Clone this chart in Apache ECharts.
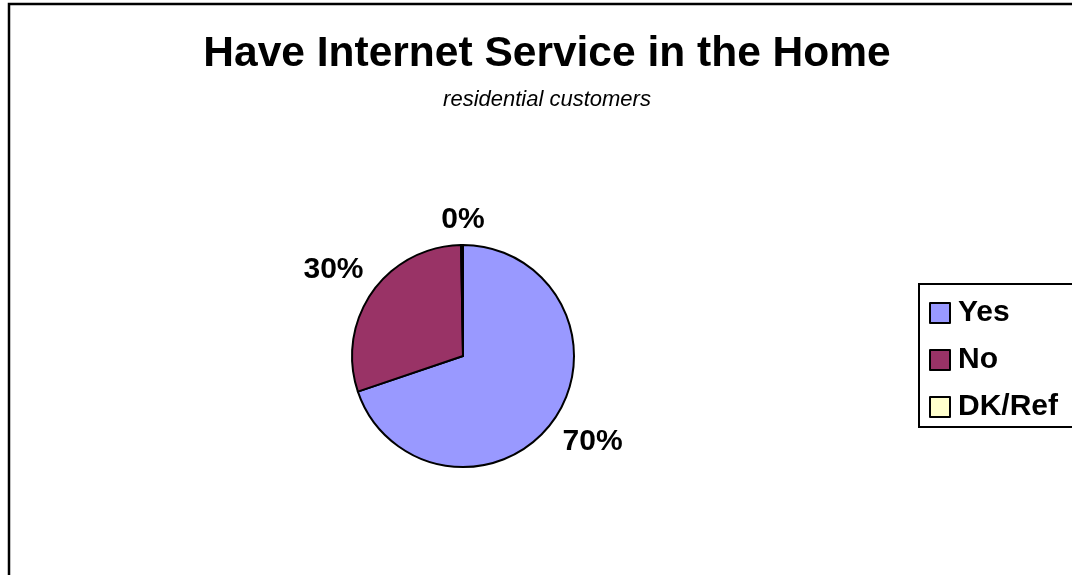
<!DOCTYPE html>
<html>
<head>
<meta charset="utf-8">
<script src="https://cdn.jsdelivr.net/npm/echarts@6/dist/echarts.min.js"></script>
<style>
  html, body { margin: 0; padding: 0; background: #fff; overflow: hidden; }
  #chart { width: 1072px; height: 575px; }
</style>
</head>
<body>
<div id="chart"></div>
<script>
// Survey answers: share of residential customers with internet at home
const categories = ['Yes', 'No', 'DK/Ref'];
const shares = [70, 30, 0];
const sliceColors = ['#9999FF', '#993366', '#FFFFCC'];

const titleText = 'Have Internet Service in the Home';
const subtitleText = 'residential customers';

const FONT = 'Liberation Sans, Arial, sans-serif';
const center = [463, 356];
const radius = 111;
const labelGap = 12;

// Mid-angle of each slice, measured clockwise from 12 o'clock
const total = shares.reduce((a, b) => a + b, 0);
const midAngles = [];
shares.reduce((cum, v) => {
  midAngles.push((cum + v / 2) / total * Math.PI * 2);
  return cum + v;
}, 0);

const sign = v => (Math.abs(v) < 1e-6 ? 0 : Math.sign(v));

// Place each percentage just outside the rim, pushing the text box away
// from the pie so its nearest corner sits a fixed gap off the edge
function placeLabel(params) {
  const a = midAngles[params.dataIndex];
  const sx = Math.sin(a);
  const sy = -Math.cos(a);
  const w = params.labelRect.width;
  const h = params.labelRect.height;
  const r = radius + labelGap;
  return {
    x: center[0] + r * sx + sign(sx) * w / 2,
    y: center[1] + r * sy + sign(sy) * h * 0.45,
    align: 'center',
    verticalAlign: 'middle'
  };
}

const pieData = categories.map((name, i) => ({
  name: name,
  value: shares[i],
  itemStyle: { color: sliceColors[i] }
}));

const chart = echarts.init(document.getElementById('chart'), null, { renderer: 'canvas' });

chart.setOption({
  animation: false,
  backgroundColor: '#ffffff',
  title: [
    {
      text: titleText,
      left: 547,
      textAlign: 'center',
      top: 33,
      padding: 0,
      textStyle: { fontFamily: FONT, fontWeight: 'bold', fontSize: 42.5, color: '#000' }
    },
    {
      text: subtitleText,
      left: 547,
      textAlign: 'center',
      top: 89,
      padding: 0,
      textStyle: { fontFamily: FONT, fontStyle: 'italic', fontWeight: 'normal', fontSize: 22, color: '#000' }
    }
  ],
  legend: {
    orient: 'vertical',
    left: 919,
    top: 284,
    data: categories,
    icon: 'rect',
    itemWidth: 20,
    itemHeight: 20,
    itemGap: 17,
    padding: [14, 60, 5, 10],
    borderColor: '#000',
    borderWidth: 2,
    selectedMode: false,
    itemStyle: { borderColor: '#000', borderWidth: 2 },
    textStyle: { fontFamily: FONT, fontWeight: 'bold', fontSize: 30, color: '#000', padding: [0, 0, 0, 3] }
  },
  graphic: [{
    type: 'rect',
    silent: true,
    shape: { x: 9, y: 4, width: 1200, height: 700 },
    style: { fill: 'none', stroke: '#000', lineWidth: 2.5 }
  }],
  series: [
    {
      type: 'pie',
      center: center,
      radius: radius,
      startAngle: 90,
      clockwise: true,
      minAngle: 1,
      data: pieData,
      percentPrecision: 0,
      label: {
        show: true,
        position: 'outside',
        formatter: '{d}%',
        fontFamily: FONT,
        fontWeight: 'bold',
        fontSize: 30,
        color: '#000'
      },
      labelLine: { show: false },
      labelLayout: placeLabel,
      itemStyle: { borderColor: '#000', borderWidth: 2 },
      emphasis: { disabled: true }
    }
  ]
});
</script>
</body>
</html>
